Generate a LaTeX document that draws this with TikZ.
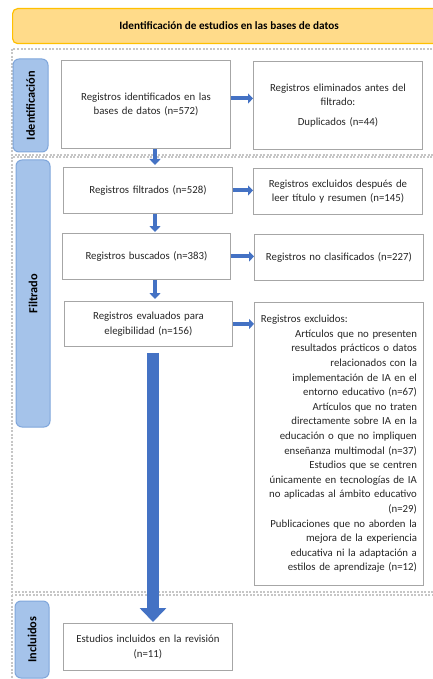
\documentclass[tikz,border=0pt]{standalone}
\usepackage{fontspec}
\setmainfont{Carlito}
\usepackage{tikz}
\usetikzlibrary{arrows.meta}
\definecolor{azulflecha}{HTML}{4472C4}
\definecolor{azulfase}{HTML}{A5C3EA}
\definecolor{bordefase}{HTML}{7FA6DB}
\definecolor{oro}{HTML}{FFC000}
\definecolor{crema}{HTML}{FFDB8A}
\definecolor{gris}{HTML}{A6A6A6}
\tikzset{caja/.style={draw=gris, fill=white, line width=0.9pt, font=\fontsize{10.8}{14.6}\selectfont, text=black!85, align=center, inner sep=0pt, anchor=north west}}
\tikzset{fase/.style={draw=bordefase, fill=azulfase, rounded corners=6pt, line width=1pt, font=\bfseries\fontsize{12.3}{14}\selectfont, text=black}}
\tikzset{seccion/.style={draw=gray!45, line width=1.2pt, dash pattern=on 2pt off 1.5pt}}
\tikzset{flechah/.style={draw=azulflecha, line width=4pt, -{Triangle[width=10pt,length=5pt]}}}
\tikzset{flechav/.style={draw=azulflecha, line width=4.5pt, -{Triangle[width=11pt,length=6pt]}}}

\begin{document}
\begin{tikzpicture}[x=1pt, y=-1pt, line join=miter]
	\clip (0,0) rectangle (433,679);
	\fill[white] (0,0) rectangle (433,679);
	
	% title bar
	\node[draw=oro, fill=crema, line width=1.2pt, rounded corners=5pt, minimum width=433, minimum height=35, anchor=north west, font=\bfseries\fontsize{11.2}{13}\selectfont] (tit) at (12,8) {Identificación de estudios en las bases de datos};
	
	% sections
	\draw[seccion] (12,49) rectangle (445,155);
	\draw[seccion] (12,157) rectangle (445,592);
	\draw[seccion] (12,595) rectangle (445,700);
	
	\node[fase, rotate=90, minimum width=93, minimum height=35] (fid) at (30.5,105.5) {Identificación};
	\node[fase, rotate=90, minimum width=267, minimum height=34] (ffil) at (33,293.5) {Filtrado};
	\node[fase, rotate=90, minimum width=77, minimum height=34] (finc) at (32,639.5) {Incluidos};
	
	% boxes
	\node[caja, text width=160, minimum width=169, minimum height=88] (b1) at (61,60) {Registros identificados en las\\bases de datos (n=572)};
	\node[caja, text width=160, minimum width=169, minimum height=88] (b2) at (253,61) {Registros eliminados antes del\\filtrado:\\[5pt]Duplicados (n=44)};
	\node[caja, text width=164, minimum width=169, minimum height=46] (b3) at (63,167) {Registros filtrados (n=528)};
	\node[caja, text width=164, minimum width=169, minimum height=46] (b4) at (253,168) {Registros excluidos después de\\leer título y resumen (n=145)};
	\node[caja, text width=164, minimum width=168, minimum height=46] (b5) at (62,233) {Registros buscados (n=383)};
	\node[caja, text width=164, minimum width=169, minimum height=46] (b6) at (254,234) {Registros no clasificados (n=227)};
	\node[caja, text width=160, minimum width=168, minimum height=45] (b7) at (64,301) {Registros evaluados para\\elegibilidad (n=156)};
	\node[caja, text width=156, minimum width=169, minimum height=283, align=right] (b8) at (254,302) {\makebox[\hsize][l]{Registros excluidos:}\\
		Artículos que no presenten\\
		resultados prácticos o datos\\
		relacionados con la\\
		implementación de IA en el\\
		entorno educativo (n=67)\\
		Artículos que no traten\\
		directamente sobre IA en la\\
		educación o que no impliquen\\
		enseñanza multimodal (n=37)\\
		Estudios que se centren\\
		únicamente en tecnologías de IA\\
		no aplicadas al ámbito educativo\\
		(n=29)\\
		Publicaciones que no aborden la\\
		mejora de la experiencia\\
		educativa ni la adaptación a\\
		estilos de aprendizaje (n=12)};
	\node[caja, text width=164, minimum width=169, minimum height=47] (b9) at (63,623) {Estudios incluidos en la revisión\\(n=11)};
	
	% arrows
	\coordinate (eje) at (155,0);
	\draw[flechah] ([yshift=6pt]b1.east) -- ([yshift=6pt]b1.east -| b2.west);
	\draw[flechah] (b3.east) -- (b3.east -| b4.west);
	\draw[flechah] (b5.east) -- (b5.east -| b6.west);
	\draw[flechah] (b7.east) -- (b7.east -| b8.west);
	
	\draw[flechav] (b1.south -| eje) -- ([yshift=2pt]b3.north -| eje);
	\draw[flechav] (b3.south -| eje) -- ([yshift=1pt]b5.north -| eje);
	\draw[flechav] (b5.south -| eje) -- ([yshift=2pt]b7.north -| eje);
	\draw[draw=azulflecha, line width=12pt, -{Triangle[width=26pt,length=14pt]}, shorten <=6pt] ([xshift=-2pt]b7.south -| eje) -- ([xshift=-2pt, yshift=1pt]b9.north -| eje);
\end{tikzpicture}
\end{document}
